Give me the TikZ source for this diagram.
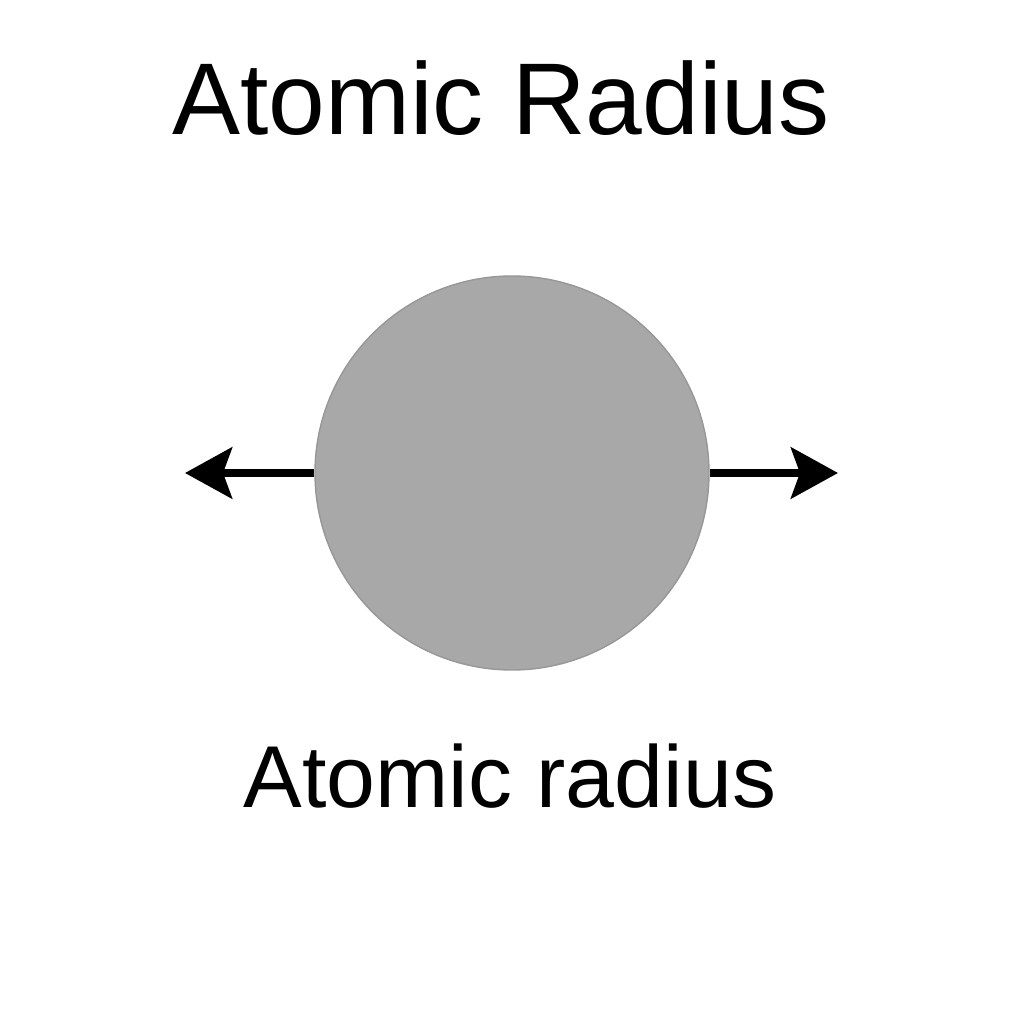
\documentclass[tikz,border=0pt]{standalone}
\usepackage{fontspec}
\setmainfont{Liberation Sans}
\usetikzlibrary{arrows.meta}

\definecolor{atomgray}{RGB}{168,168,168}

\tikzset{
  atom/.style={circle, fill=atomgray, draw=atomgray!90!black, line width=0.4pt, minimum size=3.94cm, inner sep=0pt},
  radarrow/.style={line width=2.3pt, -{Stealth[length=0.47cm, width=0.51cm, inset=0.09cm]}},
}

\begin{document}
\begin{tikzpicture}
\useasboundingbox (0,0) rectangle (10.24,10.24);
        \node[anchor=base, font=\fontsize{29}{34}\selectfont] (title) at (5.01, 8.89) {Atomic Radius};
        \node[atom] (atom) at (5.12, 5.51) {};
        \coordinate (lefttip) at (1.85, 5.51);
        \coordinate (righttip) at (8.38, 5.51);
        \draw[radarrow] (atom.west) -- (lefttip);
        \draw[radarrow] (atom.east) -- (righttip);
        \node[anchor=base, font=\fontsize{25}{30}\selectfont] (label) at (5.10, 2.16) {Atomic radius};
\end{tikzpicture}
\end{document}
